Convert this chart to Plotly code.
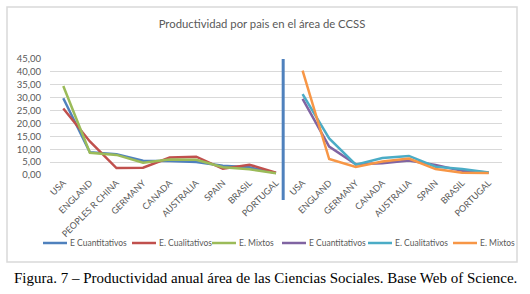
import plotly.graph_objects as go

# ---------------- data ----------------
cats_left = ["USA", "ENGLAND", "PEOPLES R CHINA", "GERMANY", "CANADA",
             "AUSTRALIA", "SPAIN", "BRASIL", "PORTUGAL"]
cats_right = ["USA", "ENGLAND", "GERMANY", "CANADA", "AUSTRALIA",
              "SPAIN", "BRASIL", "PORTUGAL"]

cuant_left = [29.8, 8.8, 8.1, 5.5, 5.4, 5.0, 3.6, 3.0, 0.8]
cual_left = [25.8, 13.0, 2.7, 2.8, 6.8, 7.1, 2.4, 4.0, 0.9]
mixt_left = [34.5, 8.6, 7.8, 4.8, 6.0, 5.9, 3.0, 2.2, 0.7]

cuant_right = [29.5, 11.0, 4.2, 4.6, 5.6, 3.9, 1.6, 1.0]
cual_right = [31.4, 14.2, 4.0, 6.6, 7.4, 3.2, 2.3, 1.0]
mixt_right = [40.5, 6.2, 3.1, 5.2, 6.4, 2.3, 0.9, 0.8]

series_names = ["E Cuantitativos", "E. Cualitativos", "E. Mixtos",
                "E Cuantitativos", "E. Cualitativos", "E. Mixtos"]
y_ticks = [0, 5, 10, 15, 20, 25, 30, 35, 40, 45]

title_text = "Productividad por pais en el área de CCSS"
caption_text = ("Figura. 7 – Productividad anual área de las Ciencias Sociales. "
                "Base Web of Science.")

# ---------------- styles ----------------
colors = ["#4F81BD", "#C0504D", "#9BBB59", "#8064A2", "#4BACC6", "#F79646"]
grid_color = "#D9D9D9"
text_color = "#595959"
font_family = "Lato, 'Liberation Sans', sans-serif"

W, H = 530, 294
ML, MR, MT, MB = 50, 28, 59, 119
PW, PH = W - ML - MR, H - MT - MB


def px_x(px):
    return (px - ML) / PW


def px_y(py):
    return (H - MB - py) / PH


n_left = len(cats_left)
n_right = len(cats_right)
x_left = list(range(n_left))
x_right = list(range(n_left, n_left + n_right))
all_cats = cats_left + cats_right

fig = go.Figure()
groups = [(x_left, [cuant_left, cual_left, mixt_left]),
          (x_right, [cuant_right, cual_right, mixt_right])]
k = 0
for xs, ys_list in groups:
    for ys in ys_list:
        fig.add_trace(go.Scatter(
            x=xs, y=ys, mode="lines", name=series_names[k],
            line=dict(color=colors[k], width=2.5),
            showlegend=False, hoverinfo="skip"))
        k += 1

# separator line between the two blocks
sep_cat = n_left - 1 + 0.27
sep_px = (sep_cat + 0.5) / (n_left + n_right)
shapes = [
    dict(type="line", xref="paper", yref="paper",
         x0=sep_px, x1=sep_px, y0=1.0, y1=px_y(200),
         line=dict(color="#4F81BD", width=3)),
    # chart border
    dict(type="rect", xref="paper", yref="paper",
         x0=px_x(7), x1=px_x(517), y0=px_y(7), y1=px_y(262),
         line=dict(color=grid_color, width=1.5)),
]

annotations = []
# custom legend
leg_line_x0 = [43, 132, 212, 282, 368, 453]
leg_line_len = 24
leg_y = 243
for i, name in enumerate(series_names):
    x0 = leg_line_x0[i]
    shapes.append(dict(type="line", xref="paper", yref="paper",
                       x0=px_x(x0), x1=px_x(x0 + leg_line_len),
                       y0=px_y(leg_y), y1=px_y(leg_y),
                       line=dict(color=colors[i], width=2.5)))
    annotations.append(dict(xref="paper", yref="paper",
                            x=px_x(x0 + leg_line_len + 1), y=px_y(leg_y),
                            xanchor="left", yanchor="middle", showarrow=False,
                            text=name,
                            font=dict(size=8.5, color=text_color,
                                      family=font_family)))

# caption
annotations.append(dict(xref="paper", yref="paper",
                        x=px_x(265), y=px_y(278),
                        xanchor="center", yanchor="middle", showarrow=False,
                        text=caption_text,
                        font=dict(size=15, color="#000000",
                                  family="'Liberation Serif', serif")))

fig.update_layout(
    width=W, height=H, autosize=False,
    margin=dict(l=ML, r=MR, t=MT, b=MB, pad=0),
    paper_bgcolor="white", plot_bgcolor="white",
    separators=",.",
    title=dict(text=title_text, x=262 / W, xanchor="center",
               y=1 - 24 / H, yanchor="middle", yref="container",
               font=dict(size=11.3, color=text_color, family=font_family)),
    shapes=shapes,
    annotations=annotations,
    xaxis=dict(range=[-0.5, n_left + n_right - 0.5],
               tickmode="array", tickvals=x_left + x_right, ticktext=all_cats,
               tickangle=-45, showgrid=False, zeroline=False,
               showline=False, ticks="",
               tickfont=dict(size=9, color=text_color, family=font_family)),
    yaxis=dict(range=[0, 45], tickmode="array", tickvals=y_ticks,
               tickformat=".2f", showgrid=True, gridcolor=grid_color,
               gridwidth=1, zeroline=False, showline=False, ticks="",
               ticklabelstandoff=8,
               tickfont=dict(size=9.5, color=text_color, family=font_family)),
)

fig.write_html("out.html",
               config={"displayModeBar": False, "staticPlot": True},
               post_script="document.body.style.margin='0';")
